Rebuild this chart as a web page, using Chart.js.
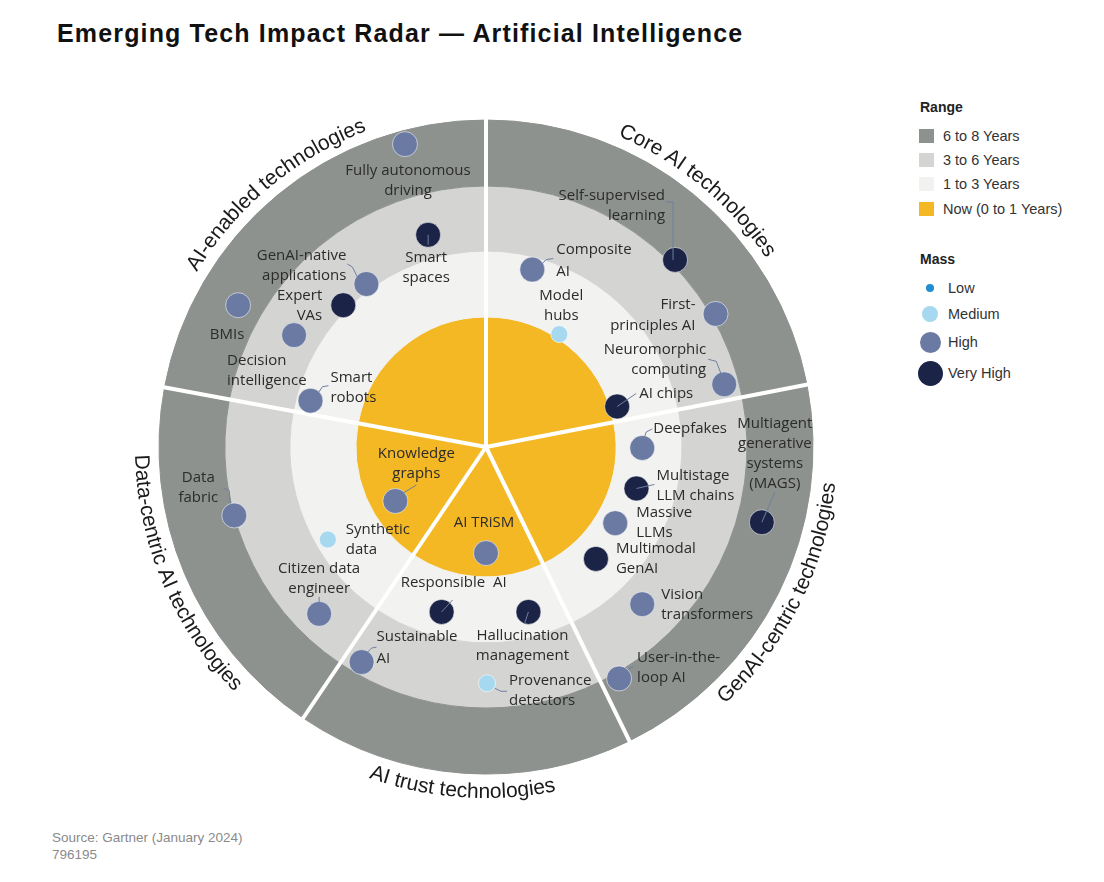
<!DOCTYPE html>
<html>
<head>
<meta charset="utf-8">
<script src="https://cdn.jsdelivr.net/npm/chart.js@4.4.1/dist/chart.umd.min.js"></script>
<style>
    body { margin: 0; width: 1104px; height: 882px; background: #fff; position: relative; overflow: hidden;
           font-family: "Liberation Sans", Arial, sans-serif; }
    #title { position: absolute; left: 57px; top: 19px; font-size: 25px; font-weight: bold; color: #111;
             letter-spacing: 1.15px; white-space: nowrap; }
    #radar { position: absolute; left: 106px; top: 67px; width: 760px; height: 760px; }
    #radar canvas { position: absolute; left: 0; top: 0; }
    .lg { position: absolute; height: 20px; line-height: 20px; font-size: 14.5px; color: #333; white-space: nowrap; }
    .lg.head { font-weight: bold; font-size: 14px; color: #222; }
    .sw { position: absolute; }
    #source { position: absolute; left: 52px; top: 829px; font-size: 13.5px; color: #8a8a8a; line-height: 17px; }
</style>
</head>
<body>
<div id="title">Emerging Tech Impact Radar — Artificial Intelligence</div>
<div id="radar">
    <canvas id="rings" width="760" height="760"></canvas>
    <canvas id="bubbles" width="760" height="760"></canvas>
</div>
<div id="legend"></div>
<div id="source">Source: Gartner (January 2024)<br>796195</div>

<script>
// Секторы радара (по часовой стрелке от вершины) и их угловая ширина, градусы
const sectors = ["Core AI technologies", "GenAI-centric technologies", "AI trust technologies",
                 "Data-centric AI technologies", "AI-enabled technologies"];
const sectorSpan = [79, 75, 60, 66.5, 79.5];

// Кольца, снаружи внутрь
const ranges = ["6 to 8 Years", "3 to 6 Years", "1 to 3 Years", "Now (0 to 1 Years)"];
const massLevels = ["Low", "Medium", "High", "Very High"];

// Технологии: смещение от центра радара (x вправо, y вверх) и масса
const techNames = [
    "Fully autonomous\ndriving", "Smart\nspaces", "GenAI-native\napplications", "Expert\nVAs", "BMIs",
    "Decision\nintelligence", "Smart\nrobots",
    "Self-supervised\nlearning", "Composite\nAI", "Model\nhubs", "First-\nprinciples AI",
    "Neuromorphic\ncomputing", "AI chips",
    "Deepfakes", "Multistage\nLLM chains", "Multiagent\ngenerative\nsystems\n(MAGS)", "Massive\nLLMs",
    "Multimodal\nGenAI", "Vision\ntransformers", "User-in-the-\nloop AI",
    "AI TRiSM", "Responsible  AI", "Hallucination\nmanagement", "Provenance\ndetectors", "Sustainable\nAI",
    "Knowledge\ngraphs", "Data\nfabric", "Synthetic\ndata", "Citizen data\nengineer"
];
const techX = [-84, -60, -124, -148, -257, -199, -182,
               196, 48, 76, 238, 247, 136,
               162, 156, 286, 134, 114, 162, 138,
               0, -46, 44, 1, -129,
               -94, -261, -164, -173];
const techY = [314, 220, 169, 147, 147, 116, 48,
               194, 184, 117, 138, 65, 42,
               -1, -43, -78, -79, -116, -163, -240,
               -110, -171, -171, -245, -223,
               -56, -71, -96, -173];
const techMass = ["High", "Very High", "High", "Very High", "High", "High", "High",
                  "Very High", "High", "Medium", "High", "High", "Very High",
                  "High", "Very High", "Very High", "High", "Very High", "High", "High",
                  "High", "Very High", "Very High", "Medium", "High",
                  "High", "High", "Medium", "High"];

// Оформление
const rangeColors = ["#8e928e", "#d4d5d2", "#f2f2f0", "#f4b824"];
const ringWeight = [66, 65, 66, 130];
const massColor = { "Low": "#1d8fd0", "Medium": "#a6d9ef", "High": "#6b7aa2", "Very High": "#1b2447" };
const massRadius = { "Low": 4, "Medium": 8.5, "High": 12.5, "Very High": 12.5 };

// Подписи: выравнивание, смещение первой строки от пузыря, выноска
const labelPlace = [
    { align: "center", dx: 3, dy: 27 },
    { align: "center", dx: -2, dy: 23, lead: [[0, 0], [0, 10]] },
    { align: "right", dx: -20, dy: -28, lead: [[-19, -20], [-14, -17], [-9, -7]] },
    { align: "right", dx: -21, dy: -9 },
    { align: "center", dx: -11, dy: 30 },
    { align: "left", dx: -67, dy: 26 },
    { align: "left", dx: 20, dy: -23, lead: [[8, -8], [12, -14], [18, -15]] },
    { align: "right", dx: -10, dy: -64, lead: [[-9, -58], [-2, -58], [-2, 0]] },
    { align: "left", dx: 24, dy: -20, lh: 22, lead: [[10, -6], [14, -10], [21, -11]] },
    { align: "center", dx: 2, dy: -38 },
    { align: "right", dx: -20, dy: -9, lh: 21 },
    { align: "right", dx: -18, dy: -35, lead: [[-16, -25], [-8, -23], [-3, -10]] },
    { align: "left", dx: 22, dy: -13, lead: [[0, 0], [19, -13]] },
    { align: "left", dx: 11, dy: -19, lead: [[2, -10], [4, -16], [10, -19]] },
    { align: "left", dx: 20, dy: -13, lead: [[0, 0], [18, -4]] },
    { align: "center", dx: 13, dy: -98, lead: [[13, -30], [0, 0]] },
    { align: "left", dx: 21, dy: -10 },
    { align: "left", dx: 20, dy: -10 },
    { align: "left", dx: 19, dy: -9 },
    { align: "left", dx: 18, dy: -21, lead: [[9, -9], [14, -12]] },
    { align: "center", dx: -2, dy: -30 },
    { align: "center", dx: 12, dy: -29, lead: [[0, 0], [11, -12]] },
    { align: "center", dx: -6, dy: 24, lead: [[0, 0], [-4, 12]] },
    { align: "left", dx: 22, dy: -3, lead: [[8, 5], [14, 8], [20, 8]] },
    { align: "left", dx: 15, dy: -25, lh: 22, lead: [[6, -10], [10, -14], [15, -15]] },
    { align: "center", dx: 21, dy: -47, lead: [[8, -8], [21, -16]] },
    { align: "center", dx: -36, dy: -38, lead: [[-10, -27], [-5, -25], [-4, -12]] },
    { align: "left", dx: 18, dy: -10 },
    { align: "center", dx: 0, dy: -45, lead: [[0, -11], [0, -17]] }
];

// Белые разделители секторов и названия секторов по дуге
const ringDecor = {
    id: "ringDecor",
    afterDatasetsDraw(chart) {
        const ctx = chart.ctx;
        const arcs = chart.getDatasetMeta(0).data;
        ctx.save();
        ctx.strokeStyle = "#fff";
        ctx.lineWidth = 4;
        arcs.forEach(a => {
            ctx.beginPath();
            ctx.moveTo(a.x, a.y);
            ctx.lineTo(a.x + Math.cos(a.startAngle) * (a.outerRadius + 2), a.y + Math.sin(a.startAngle) * (a.outerRadius + 2));
            ctx.stroke();
        });

        ctx.font = '21px "Liberation Sans", Arial, sans-serif';
        ctx.fillStyle = "#1a1a1a";
        ctx.textAlign = "center";
        ctx.textBaseline = "alphabetic";
        arcs.forEach((a, i) => {
            const mid = (a.startAngle + a.endAngle) / 2;
            const text = sectors[i];
            const lower = Math.sin(mid) > 0;
            const r = lower ? a.outerRadius + 24 : a.outerRadius + 11;
            const total = ctx.measureText(text).width / r;
            let acc = 0;
            for (const ch of text) {
                const w = ctx.measureText(ch).width;
                const ang = lower ? mid + total / 2 - (acc + w / 2) / r : mid - total / 2 + (acc + w / 2) / r;
                ctx.save();
                ctx.translate(a.x + Math.cos(ang) * r, a.y + Math.sin(ang) * r);
                ctx.rotate(lower ? ang - Math.PI / 2 : ang + Math.PI / 2);
                ctx.fillText(ch, 0, 0);
                ctx.restore();
                acc += w;
            }
        });
        ctx.restore();
    }
};

// Подписи технологий
const techLabels = {
    id: "techLabels",
    afterDatasetsDraw(chart) {
        const ctx = chart.ctx;
        const pts = chart.getDatasetMeta(0).data;
        ctx.save();
        ctx.font = '15px "Open Sans", sans-serif';
        ctx.fillStyle = "#2b2b2b";
        ctx.textBaseline = "middle";
        pts.forEach((pt, i) => {
            const p = labelPlace[i];
            if (p.lead) {
                ctx.beginPath();
                ctx.strokeStyle = "#6f7f9f";
                ctx.lineWidth = 1;
                p.lead.forEach(([lx, ly], k) => k ? ctx.lineTo(pt.x + lx, pt.y + ly) : ctx.moveTo(pt.x + lx, pt.y + ly));
                ctx.stroke();
            }
            ctx.textAlign = p.align;
            techNames[i].split("\n").forEach((line, k) => {
                ctx.fillText(line, pt.x + p.dx, pt.y + p.dy + k * (p.lh || 20));
            });
        });
        ctx.restore();
    }
};

new Chart(document.getElementById("rings"), {
    type: "doughnut",
    data: {
        labels: sectors,
        datasets: ranges.map((name, i) => ({
            label: name,
            data: sectorSpan,
            backgroundColor: rangeColors[i],
            borderColor: rangeColors[i],
            borderWidth: 1,
            weight: ringWeight[i]
        }))
    },
    options: {
        responsive: false,
        animation: false,
        events: [],
        radius: 327,
        cutout: 0,
        plugins: { legend: { display: false }, tooltip: { enabled: false } }
    },
    plugins: [ringDecor]
});

new Chart(document.getElementById("bubbles"), {
    type: "bubble",
    data: {
        datasets: [{
            data: techNames.map((n, i) => ({ x: techX[i], y: techY[i], r: massRadius[techMass[i]] })),
            backgroundColor: techMass.map(m => massColor[m]),
            borderColor: "rgba(255,255,255,0.55)",
            borderWidth: 1
        }]
    },
    options: {
        responsive: false,
        animation: false,
        events: [],
        layout: { padding: 0 },
        scales: {
            x: { type: "linear", min: -380, max: 380, display: false },
            y: { type: "linear", min: -380, max: 380, display: false }
        },
        plugins: { legend: { display: false }, tooltip: { enabled: false } }
    },
    plugins: [techLabels]
});

// Легенда
const legend = document.getElementById("legend");
function addLegend(html, cls, top, left) {
    const d = document.createElement("div");
    d.className = "lg " + cls;
    d.style.top = (top - 10) + "px";
    d.style.left = left + "px";
    d.innerHTML = html;
    legend.appendChild(d);
}
addLegend("Range", "head", 107, 920);
const rangeRowY = [136, 160, 184, 209];
ranges.forEach((name, i) => {
    const sw = document.createElement("div");
    sw.className = "sw";
    sw.style.cssText = `left:919px;top:${rangeRowY[i] - 7}px;width:15px;height:14px;background:${rangeColors[i]}`;
    legend.appendChild(sw);
    addLegend(name, "", rangeRowY[i], 943);
});
addLegend("Mass", "head", 259, 920);
const massRowY = [288, 314, 342, 373];
massLevels.forEach((name, i) => {
    const r = [4, 8, 10.5, 12.5][i];
    const sw = document.createElement("div");
    sw.className = "sw";
    sw.style.cssText = `left:${930 - r}px;top:${massRowY[i] - r}px;width:${2 * r}px;height:${2 * r}px;border-radius:50%;background:${massColor[name]}`;
    legend.appendChild(sw);
    addLegend(name, "", massRowY[i], 948);
});
</script>
</body>
</html>
